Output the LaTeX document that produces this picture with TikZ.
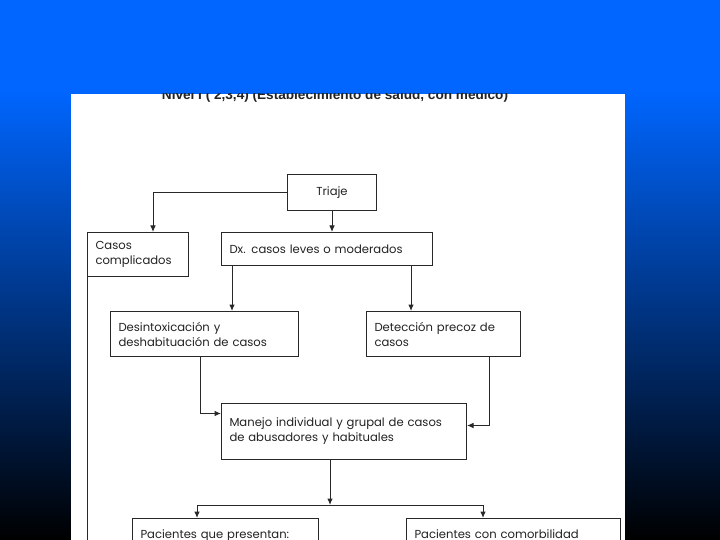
\documentclass[tikz,border=0pt]{standalone}
\usepackage{fontspec}
\setmainfont{Poppins}
\newfontfamily\titlefont{Liberation Sans}
\usetikzlibrary{arrows.meta,calc}

\definecolor{fondo}{RGB}{0,102,255}
\definecolor{linea}{RGB}{40,40,40}
\definecolor{letra}{RGB}{35,35,35}

\tikzset{
  caja/.style={draw=linea, line width=1pt, anchor=north west, align=left,
    inner xsep=8pt, inner ysep=2pt, text=letra, font=\fontsize{11.6}{15}\selectfont},
  flecha/.style={draw=linea, line width=1pt, -{Latex[length=6.5pt,width=5.5pt]}},
  linea/.style={draw=linea, line width=1pt}
}

\begin{document}
\begin{tikzpicture}[x=1pt, y=-1pt]
             \useasboundingbox (0,0) rectangle (720,540);
             \fill[fondo] (0,0) rectangle (720,91);
             \shade[top color=fondo, bottom color=black] (0,90) rectangle (720,540);
             \fill[white] (71,94) rectangle (625,540);

             \begin{scope}
             \clip (71,94) rectangle (625,540);
             \node[draw=none, anchor=base, font=\titlefont\bfseries\fontsize{13.6}{16}\selectfont, text=letra]
                  (titulo) at (335,100) {Nivel I ( 2,3,4) (Establecimiento de salud, con médico)};

             \node[caja, align=center, text width=73pt, minimum height=36pt] (triaje) at (287,174) {Triaje};
             \node[caja, text width=85pt, minimum height=44pt] (casos) at (87,232) {Casos\\complicados};
             \node[caja, text width=195pt, minimum height=33pt] (dx) at (221,232) {Dx. casos leves o moderados};
             \node[caja, text width=172pt, minimum height=45pt] (desintox) at (110,311) {Desintoxicación y\\deshabituación de casos};
             \node[caja, text width=138pt, minimum height=45pt] (detec) at (366,311) {Detección precoz de\\casos};
             \node[caja, text width=229pt, minimum height=56pt] (manejo) at (221,403) {Manejo individual y grupal de casos\\de abusadores y habituales};
             \node[caja, text width=170pt, inner ysep=11pt] (pac1) at (132,518) {Pacientes que presentan:};
             \node[caja, text width=198pt, inner ysep=11pt] (pac2) at (406,518) {Pacientes con comorbilidad};

             \coordinate (rama) at (330,505);

             \draw[flecha] (triaje.south) -- (triaje.south |- dx.north);
             \draw[flecha] (triaje.west) -| ([xshift=15pt]casos.north);
             \draw[linea] (casos.south west) -- ++(0,270);
             \draw[flecha] ([xshift=11pt]dx.south west) -- ([xshift=11pt]dx.south west |- desintox.north);
             \draw[flecha] ([xshift=-22pt]dx.south east) -- ([xshift=-22pt]dx.south east |- detec.north);
             \draw[flecha] ([xshift=-4pt]desintox.south) |- ([yshift=18pt]manejo.west);
             \draw[flecha] ([xshift=-32pt]detec.south east) |- ([yshift=6pt]manejo.east);
             \draw[flecha] (manejo.south -| rama) -- (rama);
             \draw[linea] (rama -| 197,0) -- (rama -| 483,0);
             \draw[flecha] (rama -| 197,0) -- (197,0 |- pac1.north);
             \draw[flecha] (rama -| 483,0) -- (483,0 |- pac2.north);
             \end{scope}
             \end{tikzpicture}
\end{document}
